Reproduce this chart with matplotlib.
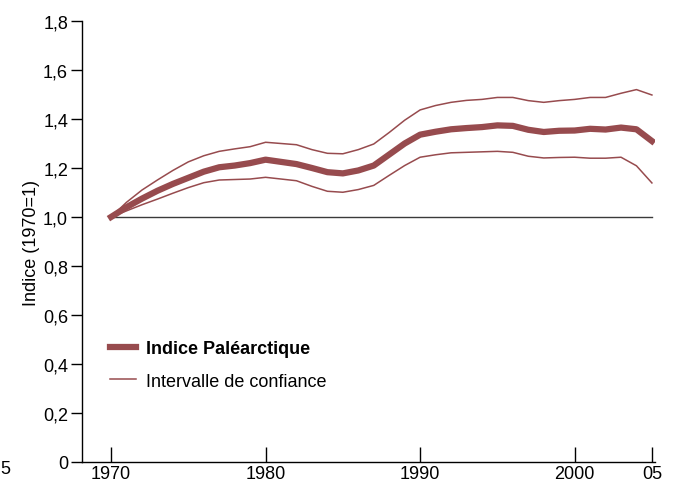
import numpy as np
import matplotlib
matplotlib.use("Agg")
from matplotlib import pyplot as plt

plt.rcParams['font.family'] = ['Liberation Sans', 'DejaVu Sans']

annees = np.arange(1970, 2006)

indice = [1.00, 1.04, 1.075, 1.107, 1.135, 1.16, 1.185, 1.203, 1.21, 1.22,
          1.234, 1.225, 1.216, 1.20, 1.183, 1.178, 1.19, 1.21, 1.255, 1.30,
          1.336, 1.348, 1.358, 1.363, 1.367, 1.374, 1.372, 1.356, 1.347, 1.352,
          1.353, 1.36, 1.357, 1.365, 1.358, 1.31]

borne_haute = [1.00, 1.06, 1.11, 1.151, 1.19, 1.225, 1.25, 1.268, 1.278, 1.287,
               1.305, 1.30, 1.295, 1.275, 1.26, 1.258, 1.275, 1.298, 1.345, 1.395,
               1.437, 1.455, 1.468, 1.476, 1.48, 1.488, 1.488, 1.475, 1.468, 1.475,
               1.48, 1.488, 1.488, 1.505, 1.52, 1.498]

borne_basse = [1.00, 1.025, 1.05, 1.073, 1.097, 1.12, 1.14, 1.151, 1.153, 1.155,
               1.162, 1.155, 1.148, 1.125, 1.105, 1.101, 1.112, 1.129, 1.17, 1.21,
               1.244, 1.254, 1.262, 1.264, 1.266, 1.268, 1.264, 1.248, 1.241, 1.243,
               1.244, 1.24, 1.24, 1.244, 1.209, 1.139]

xticks = [1970, 1980, 1990, 2000, 2005]
xlabels = ['1970', '1980', '1990', '2000', '05']
yticks = [0, 0.2, 0.4, 0.6, 0.8, 1.0, 1.2, 1.4, 1.6, 1.8]
ylabels = ['0', '0,2', '0,4', '0,6', '0,8', '1,0', '1,2', '1,4', '1,6', '1,8']

couleur = '#974b4e'
fs = 13

W, H = 675, 485
fig = plt.figure(figsize=(W / 100, H / 100), dpi=100)
ax = fig.add_axes([82 / W, (H - 463) / H, (655 - 82) / W, (463 - 22) / H])

ax.plot([1970, 2005], [1.0, 1.0], color='#3a3a3a', linewidth=1.0, zorder=1)
ax.plot(annees, borne_haute, color=couleur, linewidth=1.1, zorder=2)
ax.plot(annees, borne_basse, color=couleur, linewidth=1.1, zorder=2)
ax.plot(annees, indice, color=couleur, linewidth=4.5, zorder=3)

ax.set_xlim(1968.12, 2005.2)
ax.set_ylim(0, 1.8)

for s in ['top', 'right']:
    ax.spines[s].set_visible(False)
ax.spines['left'].set_linewidth(1.0)
ax.spines['bottom'].set_linewidth(1.0)

ax.set_xticks(xticks)
ax.set_xticklabels(xlabels)
ax.set_yticks(yticks)
ax.set_yticklabels(ylabels)
ax.tick_params(axis='x', direction='in', length=11, width=1, labelsize=fs, pad=2)
ax.tick_params(axis='y', direction='out', length=8, width=1, labelsize=fs, pad=2)

ax.set_ylabel('Indice (1970=1)', fontsize=fs, labelpad=2)

h1, = ax.plot([], [], color=couleur, linewidth=4.5)
h2, = ax.plot([], [], color=couleur, linewidth=1.1)
leg = ax.legend([h1, h2], ['Indice Paléarctique', 'Intervalle de confiance'],
                loc='center left', bbox_to_anchor=(0.037, 0.22), frameon=False,
                fontsize=fs, handlelength=1.4, handletextpad=0.55, labelspacing=0.85,
                borderaxespad=0)
leg.get_texts()[0].set_fontweight('bold')

fig.text(0.0, (H - 470) / H, '5', fontsize=fs, va='center', ha='left')

fig.savefig('out.png', dpi=100)
